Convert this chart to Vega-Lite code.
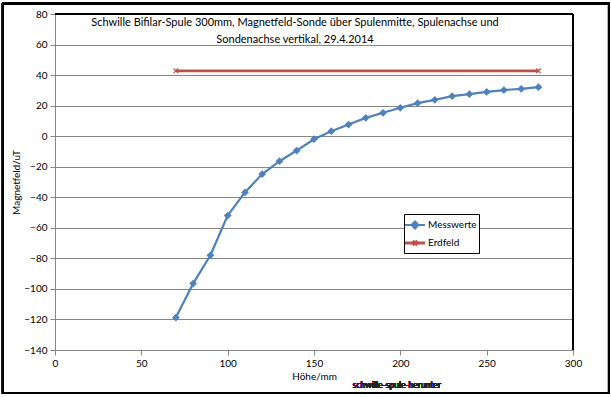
{
  "$schema": "https://vega.github.io/schema/vega-lite/v6.json",
  "width": 518,
  "height": 336,
  "autosize": {"type": "none"},
  "padding": {"left": 55, "top": 14, "right": 38, "bottom": 47},
  "background": "white",
  "config": {
    "view": {"stroke": null},
    "font": "Lato",
    "axis": {"labelFont": "Lato", "titleFont": "Lato", "labelColor": "black", "titleColor": "black", "labelFontSize": 10, "titleFontSize": 10, "titleFontWeight": "normal", "domainColor": "#868686", "tickColor": "#868686", "tickSize": 5, "gridColor": "#868686", "labelOverlap": false}
  },
  "title": {
    "text": ["Schwille Bifilar-Spule 300mm,  Magnetfeld-Sonde über Spulenmitte, Spulenachse und", "Sondenachse vertikal, 29.4.2014"],
    "orient": "top",
    "anchor": "middle",
    "offset": -42,
    "dx": -19,
    "font": "Lato",
    "fontSize": 11,
    "fontWeight": "normal",
    "color": "black",
    "lineHeight": 17
  },
  "data": {
    "values": [
      {"hoehe": 70, "wert": -118.8, "serie": "Messwerte"},
      {"hoehe": 80, "wert": -96.5, "serie": "Messwerte"},
      {"hoehe": 90, "wert": -78, "serie": "Messwerte"},
      {"hoehe": 100, "wert": -52, "serie": "Messwerte"},
      {"hoehe": 110, "wert": -36.8, "serie": "Messwerte"},
      {"hoehe": 120, "wert": -24.8, "serie": "Messwerte"},
      {"hoehe": 130, "wert": -16.4, "serie": "Messwerte"},
      {"hoehe": 140, "wert": -9.4, "serie": "Messwerte"},
      {"hoehe": 150, "wert": -2, "serie": "Messwerte"},
      {"hoehe": 160, "wert": 3.3, "serie": "Messwerte"},
      {"hoehe": 170, "wert": 7.6, "serie": "Messwerte"},
      {"hoehe": 180, "wert": 12, "serie": "Messwerte"},
      {"hoehe": 190, "wert": 15.3, "serie": "Messwerte"},
      {"hoehe": 200, "wert": 18.6, "serie": "Messwerte"},
      {"hoehe": 210, "wert": 21.6, "serie": "Messwerte"},
      {"hoehe": 220, "wert": 23.8, "serie": "Messwerte"},
      {"hoehe": 230, "wert": 26.2, "serie": "Messwerte"},
      {"hoehe": 240, "wert": 27.5, "serie": "Messwerte"},
      {"hoehe": 250, "wert": 29, "serie": "Messwerte"},
      {"hoehe": 260, "wert": 30.2, "serie": "Messwerte"},
      {"hoehe": 270, "wert": 31, "serie": "Messwerte"},
      {"hoehe": 280, "wert": 32.1, "serie": "Messwerte"},
      {"hoehe": 70, "wert": 42.8, "serie": "Erdfeld"},
      {"hoehe": 280, "wert": 42.8, "serie": "Erdfeld"}
    ]
  },
  "layer": [
    {
      "mark": {"type": "line"},
      "encoding": {
        "x": {"field": "hoehe", "type": "quantitative", "scale": {"domain": [0, 300], "nice": false, "zero": false},
          "axis": {"tickCount": 6, "title": "Höhe/mm", "grid": false, "labelPadding": 3, "titlePadding": 3, "labelFlush": false, "labelOverlap": false}},
        "y": {"field": "wert", "type": "quantitative", "scale": {"domain": [-140, 80], "nice": false, "zero": false},
          "axis": {"tickCount": 11, "title": "Magnetfeld/uT", "grid": true, "labelPadding": 3, "titlePadding": 2, "labelFlush": false, "labelOverlap": false, "labelBound": false}},
        "strokeWidth": {"field": "serie", "type": "nominal", "scale": {"domain": ["Messwerte", "Erdfeld"], "range": [2.2, 2.8]}, "legend": null},
        "color": {"field": "serie", "type": "nominal",
          "scale": {"domain": ["Messwerte", "Erdfeld"], "range": ["#4F81BD", "#C0504D"]},
          "legend": {
            "title": null, "orient": "none", "legendX": 349, "legendY": 200,
            "strokeColor": "black", "fillColor": "white", "padding": 2, "rowPadding": 1,
            "labelFont": "Lato", "labelFontSize": 10, "labelColor": "black", "labelOffset": 4,
            "symbolSize": 225, "symbolStrokeWidth": 2.2,
            "encode": {"symbols": {"update": {
              "shape": {"signal": "datum.value === 'Messwerte' ? 'M-1.33,0H1.33M0,-0.45L0.45,0L0,0.45L-0.45,0Z' : 'M-1.33,0H1.33M-0.3,-0.3L0.3,0.3M-0.3,0.3L0.3,-0.3'"},
              "fill": {"signal": "datum.value === 'Messwerte' ? '#4F81BD' : 'transparent'"}
            }}}
          }
        },
        "detail": {"field": "serie"}
      }
    },
    {
      "transform": [{"filter": "datum.serie === 'Messwerte'"}],
      "mark": {"type": "point", "shape": "diamond", "filled": true, "size": 60, "color": "#4F81BD", "opacity": 1},
      "encoding": {
        "x": {"field": "hoehe", "type": "quantitative"},
        "y": {"field": "wert", "type": "quantitative"}
      }
    },
    {
      "transform": [{"filter": "datum.serie === 'Erdfeld'"}],
      "mark": {"type": "point", "shape": "M-1,-1L1,1M-1,1L1,-1", "filled": false, "size": 22, "stroke": "#C0504D", "strokeWidth": 1.3, "opacity": 1},
      "encoding": {
        "x": {"field": "hoehe", "type": "quantitative"},
        "y": {"field": "wert", "type": "quantitative"}
      }
    },
    {
      "mark": {"type": "rule", "stroke": "black", "strokeWidth": 1.2},
      "encoding": {
        "x": {"datum": 0, "type": "quantitative"},
        "x2": {"datum": 300},
        "y": {"datum": 80, "type": "quantitative"}
      }
    },
    {
      "mark": {"type": "rule", "stroke": "black", "strokeWidth": 1.2},
      "encoding": {
        "x": {"datum": 300, "type": "quantitative"},
        "y": {"datum": -140, "type": "quantitative"},
        "y2": {"datum": 80}
      }
    },
    {
      "mark": {"type": "text", "text": "schwille-spule-herunter", "font": "Lato", "fontSize": 8.5, "fill": "#222222", "clip": false},
      "encoding": {
        "x": {"datum": 198, "type": "quantitative"},
        "y": {"datum": -163, "type": "quantitative"}
      }
    },
    {
      "mark": {"type": "rect", "fill": null, "fillOpacity": 0, "stroke": "black", "strokeWidth": 1.5, "clip": false},
      "encoding": {
        "x": {"datum": -30.3, "type": "quantitative"},
        "x2": {"datum": 320.7},
        "y": {"datum": 86.9, "type": "quantitative"},
        "y2": {"datum": -168.2}
      }
    }
  ]
}
